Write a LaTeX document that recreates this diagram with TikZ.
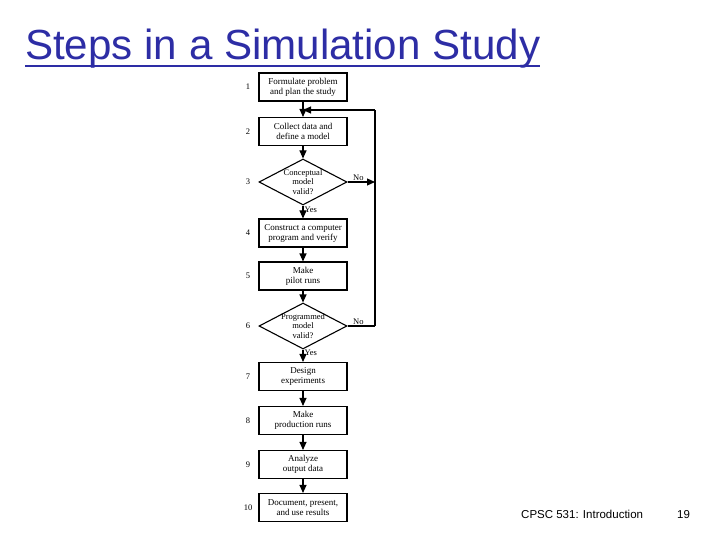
\documentclass[tikz,border=0pt]{standalone}
\usepackage{fontspec}
\setmainfont{Liberation Serif}
\newfontfamily\arialf{Liberation Sans}
\usetikzlibrary{shapes.geometric,arrows.meta}
\definecolor{titleblue}{RGB}{45,45,165}
\begin{document}
\begin{tikzpicture}[x=1pt,y=-1pt,
  stepbox/.style={draw,line width=1.1pt,minimum width=88pt,minimum height=28pt,inner sep=0pt,align=center,font=\fontsize{9}{10}\selectfont},
  dia/.style={draw,diamond,line width=1.1pt,minimum width=88pt,minimum height=46pt,inner sep=0pt},
  diatext/.style={align=center,font=\fontsize{8.5}{9.5}\selectfont},
  num/.style={font=\fontsize{8.5}{9.5}\selectfont},
  lab/.style={font=\fontsize{8.5}{9.5}\selectfont,inner sep=1pt},
  arr/.style={line width=1.1pt,-{Triangle[length=8pt,width=7pt]}},
  ln/.style={line width=1.1pt}]
\useasboundingbox (0,0) rectangle (720,540);
\node[font=\arialf\fontsize{40}{44}\selectfont,text=titleblue,anchor=base west,inner sep=0pt] (title) at (25,60) {\resizebox{515pt}{!}{Steps in a Simulation Study}};
\draw[titleblue,line width=1.6pt] (25,66) -- (540,66);
\node[stepbox] (b1) at (303,87) {Formulate problem\\and plan the study};
\node[stepbox] (b2) at (303,131.5) {Collect data and\\define a model};
\node[dia] (d3) at (303,182) {};
\node[diatext] (d3t) at (d3.center) {Conceptual\\model\\valid?};
\node[stepbox] (b4) at (303,233) {Construct a computer\\program and verify};
\node[stepbox] (b5) at (303,276) {Make\\pilot runs};
\node[dia] (d6) at (303,326) {};
\node[diatext] (d6t) at (d6.center) {Programmed\\model\\valid?};
\node[stepbox] (b7) at (303,376.5) {Design\\experiments};
\node[stepbox] (b8) at (303,420.5) {Make\\production runs};
\node[stepbox] (b9) at (303,464.5) {Analyze\\output data};
\node[stepbox] (b10) at (303,507.5) {Document, present,\\and use results};
\foreach \n/\y in {1/87,2/131.5,3/182,4/233,5/276,6/326,7/376.5,8/420.5,9/464.5,10/507.5}
  \node[num] (n\n) at (248,\y) {\n};
\draw[arr] (b1) -- (b2);
\draw[arr] (b2) -- (d3);
\draw[arr] (d3) -- (b4) node[lab,pos=0.3,anchor=west] (y3) {Yes};
\draw[arr] (b4) -- (b5);
\draw[arr] (b5) -- (d6);
\draw[arr] (d6) -- (b7) node[lab,pos=0.25,anchor=west] (y6) {Yes};
\draw[arr] (b7) -- (b8);
\draw[arr] (b8) -- (b9);
\draw[arr] (b9) -- (b10);
\coordinate (rt) at (375,110);
\coordinate (r3) at (375,182);
\coordinate (r6) at (375,326);
\coordinate (j12) at (303,110);
\draw[arr] (d3.east) -- (r3) node[lab,pos=0.15,anchor=south west] (no3) {No};
\draw[ln] (d6.east) -- (r6) node[lab,pos=0.15,anchor=south west] (no6) {No};
\draw[ln] (r6) -- (rt);
\draw[arr] (rt) -- (j12);
\node[font=\arialf\fontsize{11.5}{13}\selectfont,anchor=base west,inner sep=0pt] (foot) at (521,518) {CPSC 531: Introduction};
\node[font=\arialf\fontsize{11.5}{13}\selectfont,anchor=base west,inner sep=0pt] (page) at (677,518) {19};
\end{tikzpicture}
\end{document}
